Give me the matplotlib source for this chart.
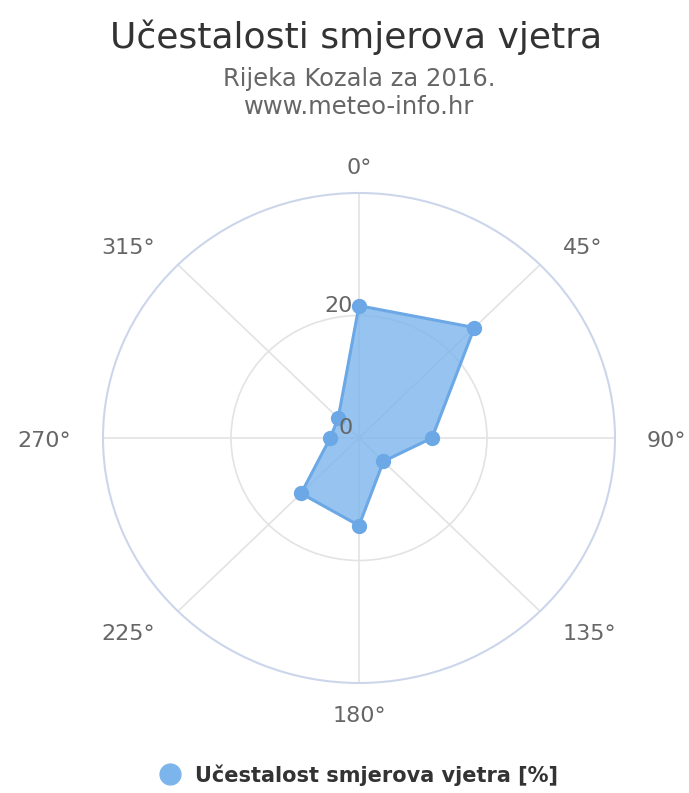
import numpy as np
import matplotlib
matplotlib.use("Agg")
import matplotlib.pyplot as plt
from matplotlib.lines import Line2D

# smjerovi vjetra (stupnjevi) i učestalosti [%]
directions = [0, 45, 90, 135, 180, 225, 270, 315]
frequency = [21.6, 25.5, 11.4, 5.4, 14.3, 12.8, 4.5, 4.6]
dir_labels = ["0°", "45°", "90°", "135°", "180°", "225°", "270°", "315°"]
r_ticks = [0, 20]
r_max = 40

title = "Učestalosti smjerova vjetra"
subtitle = "Rijeka Kozala za 2016.\nwww.meteo-info.hr"
series_name = "Učestalost smjerova vjetra [%]"

fill_color = "#7cb5ec"
line_color = "#6ca8e6"
grid_color = "#e3e3e3"
axis_color = "#ccd6eb"
label_color = "#666666"

W, H = 689, 793
fig = plt.figure(figsize=(W / 100, H / 100), dpi=100)

# plot area: centre (359, 438), radii 256 x 245 px (slightly squashed)
cx, cy, rx, ry = 359, 438, 256, 245
ax = fig.add_axes([(cx - rx) / W, (H - cy - ry) / H, 2 * rx / W, 2 * ry / H],
                  projection="polar")
ax.set_aspect("auto")
ax.set_theta_zero_location("N")
ax.set_theta_direction(-1)
ax.set_ylim(0, r_max)

theta = np.deg2rad(directions)
ax.set_xticks(theta)
ax.set_xticklabels([])
ax.set_yticks(r_ticks)
ax.set_yticklabels([])
ax.tick_params(length=0)
ax.grid(True, color=grid_color, linewidth=1.2)
ax.spines["polar"].set_color(axis_color)
ax.spines["polar"].set_linewidth(1.5)

# polygon
th_closed = np.append(theta, theta[0])
fr_closed = np.append(frequency, frequency[0])
ax.fill(th_closed, fr_closed, color=fill_color, alpha=0.8, zorder=3, lw=0)
ax.plot(th_closed, fr_closed, color=line_color, lw=2.2, zorder=4)
ax.plot(theta, frequency, "o", color=line_color, markersize=10, zorder=5)

# direction labels outside the circle
for t, lab in zip(theta, dir_labels):
    s, c = np.sin(t), np.cos(t)
    ha = "center" if abs(s) < 0.1 else ("left" if s > 0 else "right")
    dy = 28 * c - 3 - 2 * (c < -0.9)
    ax.annotate(lab, xy=(t, r_max), xytext=(32 * s, dy),
                textcoords="offset pixels", ha=ha, va="center",
                fontsize=16, color=label_color, annotation_clip=False)

# radial labels
for r in r_ticks:
    ax.annotate(str(r), xy=(0, r), xytext=(-6, 10), textcoords="offset pixels",
                ha="right", va="center", fontsize=16, color=label_color,
                zorder=6, annotation_clip=False)

fig.text(356 / W, 1 - 37 / H, title, ha="center", va="center",
         fontsize=26, color="#333333")
fig.text(359 / W, 1 - 93 / H, subtitle, ha="center", va="center",
         fontsize=17.5, color=label_color, linespacing=1.2)

handle = Line2D([], [], marker="o", linestyle="none", color=fill_color,
                markersize=15)
fig.legend([handle], [series_name], loc="center", bbox_to_anchor=(354 / W, 1 - 775 / H),
           frameon=False, handletextpad=0.2,
           prop={"weight": "bold", "size": 15}, labelcolor="#333333")

fig.savefig("out.png", dpi=100)
